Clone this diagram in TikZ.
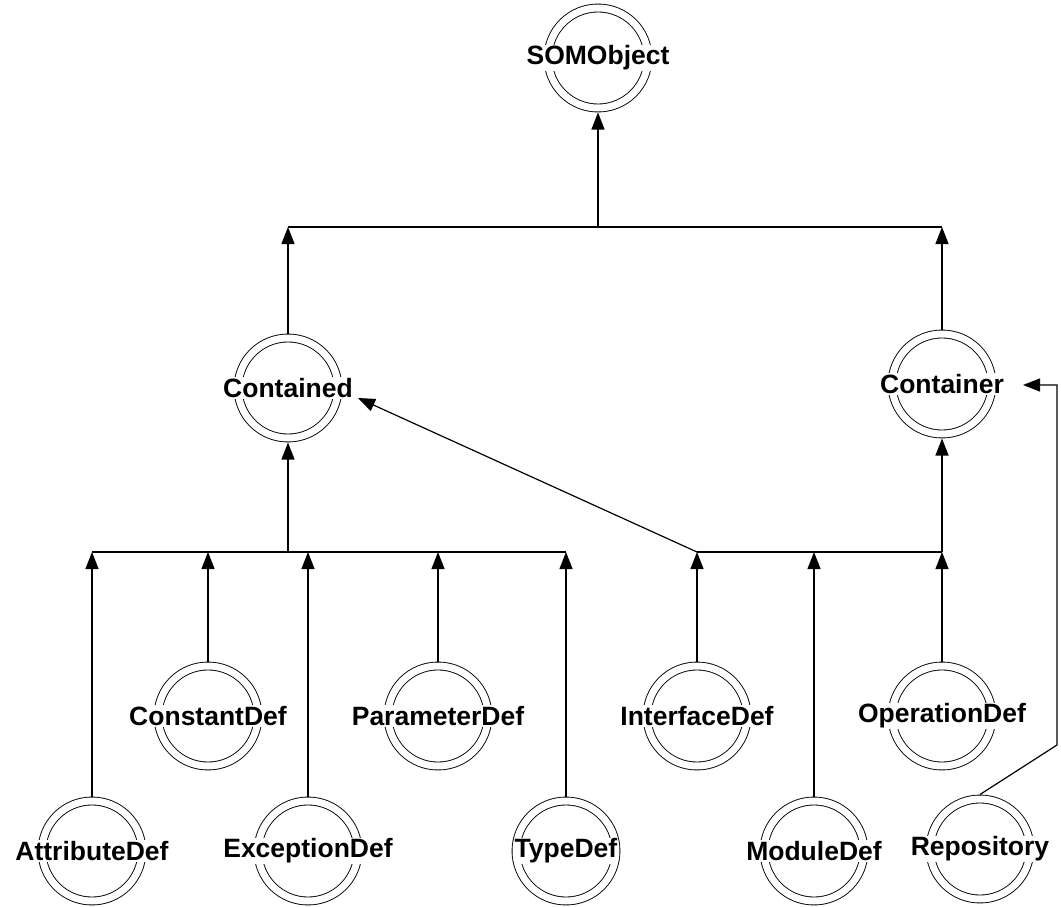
\documentclass[tikz,border=0pt]{standalone}
\usepackage{fontspec}
\setmainfont{Liberation Sans}
\usetikzlibrary{arrows.meta}
\begin{document}
\begin{tikzpicture}[x=1pt,y=-1pt,
  cls/.style={circle, draw, double, double distance=7pt, line width=0.9pt,
    minimum size=100pt, inner sep=0pt, outer sep=4.5pt,
    label={[fill=white, inner sep=1pt,
      font=\fontsize{26.5}{26.5}\selectfont\bfseries]center:#1}},
  link/.style={line width=1.2pt},
  isa/.style={link, -{Triangle[length=17pt,width=13pt]}}]
\useasboundingbox (0,0) rectangle (1061,907);

% classes
\node[cls=SOMObject]    (somobject)    at (598,58)  {};
\node[cls=Contained]    (contained)    at (288,388) {};
\node[cls=Container]    (container)    at (942,384) {};
\node[cls=ConstantDef]  (constantdef)  at (208,716) {};
\node[cls=ParameterDef] (parameterdef) at (438,716) {};
\node[cls=InterfaceDef] (interfacedef) at (697,716) {};
\node[cls=OperationDef] (operationdef) at (942,716) {};
\node[cls=AttributeDef] (attributedef) at (92,851)  {};
\node[cls=ExceptionDef] (exceptiondef) at (308,851) {};
\node[cls=TypeDef]      (typedef)      at (566,851) {};
\node[cls=ModuleDef]    (moduledef)    at (814,851) {};
\node[cls=Repository]   (repository)   at (980,849) {};

% junction points of the inheritance bars
\coordinate (topj)   at (598,227);
\coordinate (leftj)  at (288,552);
\coordinate (rightj) at (942,552);
\coordinate (containedin) at (358,398);
\coordinate (repobend)    at (1057,745);
\coordinate (repoturn)    at (1057,385);
\coordinate (containerin) at (1023,385);

% SOMObject subclasses
\draw[link] (contained |- topj) -- (container |- topj);
\draw[isa] (topj) -- (somobject);
\draw[isa] (contained) -- (contained |- topj);
\draw[isa] (container) -- (container |- topj);

% Contained subclasses
\draw[link] (attributedef |- leftj) -- (typedef |- leftj);
\draw[isa] (leftj) -- (contained);
\draw[isa] (attributedef) -- (attributedef |- leftj);
\draw[isa] (constantdef)  -- (constantdef |- leftj);
\draw[isa] (exceptiondef) -- (exceptiondef |- leftj);
\draw[isa] (parameterdef) -- (parameterdef |- leftj);
\draw[isa] (typedef)      -- (typedef |- leftj);

% Container subclasses (InterfaceDef is also Contained)
\draw[link] (interfacedef |- rightj) -- (rightj);
\draw[isa] (rightj) -- (container);
\draw[isa] (interfacedef |- rightj) -- (containedin);
\draw[isa] (interfacedef) -- (interfacedef |- rightj);
\draw[isa] (moduledef)    -- (moduledef |- rightj);
\draw[isa] (operationdef) -- (operationdef |- rightj);

% Repository
\draw[isa] (repository.north) -- (repobend) -- (repoturn) -- (containerin);
\end{tikzpicture}
\end{document}
